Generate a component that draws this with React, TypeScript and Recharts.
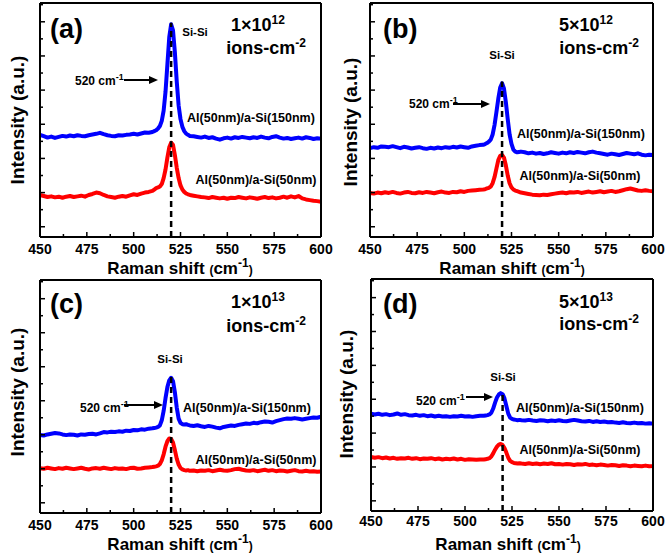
import React from "react";
import { LineChart, Line, XAxis, YAxis, ReferenceLine } from "recharts";

// Raman shift grid (cm-1): coarse on the baseline, fine across the Si-Si peak
const SHIFT = [
  450, 452, 454, 456, 458, 460, 462, 464, 466, 468, 470, 472, 474, 476, 478,
  480, 482, 484, 486, 488, 490, 492, 494, 496, 498, 500, 502, 504, 506, 508,
  510, 511, 512, 513, 514, 515, 516, 517, 518, 519, 520, 521, 522, 523, 524,
  525, 526, 527, 528, 529, 530,
  532, 534, 536, 538, 540, 542, 544, 546, 548, 550, 552, 554, 556, 558, 560,
  562, 564, 566, 568, 570, 572, 574, 576, 578, 580, 582, 584, 586, 588, 590,
  592, 594, 596, 598, 600,
];

// (a) 1x10^12
const A_BLUE = [
  5.38, 5.3, 5.22, 5.28, 5.2, 5.26, 5.32, 5.28, 5.34, 5.3, 5.36, 5.32, 5.3, 5.36, 5.4,
  5.44, 5.5, 5.42, 5.36, 5.32, 5.3, 5.36, 5.34, 5.38, 5.4, 5.44, 5.4, 5.46, 5.52, 5.5,
  5.55, 5.6, 5.65, 5.75, 5.9, 6.2, 6.8, 7.9, 9.5, 11.1, 11.85, 11.5, 10.2, 8.5, 7.1,
  6.3, 5.85, 5.6, 5.45, 5.38, 5.32,
  5.3, 5.26, 5.22, 5.28, 5.2, 5.24, 5.16, 5.1, 5.18, 5.22, 5.16, 5.24, 5.2, 5.26, 5.22,
  5.18, 5.24, 5.2, 5.28, 5.22, 5.18, 5.26, 5.3, 5.22, 5.16, 5.2, 5.14, 5.18, 5.22, 5.16,
  5.24, 5.2, 5.14, 5.18, 5.16,
];
const A_RED = [
  1.86, 1.8, 1.74, 1.78, 1.72, 1.76, 1.7, 1.76, 1.8, 1.74, 1.78, 1.82, 1.76, 1.86, 1.92,
  2.0, 1.96, 1.86, 1.78, 1.74, 1.7, 1.76, 1.8, 1.76, 1.84, 1.9, 1.86, 1.94, 2.0, 2.04,
  2.1, 2.18, 2.26, 2.3, 2.36, 2.5, 2.85, 3.35, 4.05, 4.65, 4.92, 4.8, 4.2, 3.45, 2.85,
  2.42, 2.18, 2.04, 1.95, 1.9, 1.86,
  1.82, 1.78, 1.74, 1.72, 1.68, 1.74, 1.7, 1.66, 1.7, 1.64, 1.7, 1.68, 1.74, 1.7, 1.66,
  1.72, 1.68, 1.64, 1.7, 1.74, 1.68, 1.72, 1.66, 1.7, 1.76, 1.7, 1.78, 1.72, 1.8, 1.66,
  1.6, 1.56, 1.52, 1.5, 1.46,
];

// (b) 5x10^12
const B_BLUE = [
  4.6, 4.66, 4.62, 4.7, 4.68, 4.66, 4.72, 4.66, 4.6, 4.68, 4.64, 4.58, 4.62, 4.66, 4.6,
  4.56, 4.62, 4.58, 4.64, 4.6, 4.66, 4.62, 4.68, 4.64, 4.7, 4.66, 4.62, 4.7, 4.74, 4.78,
  4.8, 4.84, 4.9, 4.98, 5.1, 5.4, 5.95, 6.7, 7.5, 8.15, 8.4, 8.1, 7.3, 6.3, 5.4,
  4.85, 4.52, 4.4, 4.36, 4.38, 4.4,
  4.36, 4.3, 4.34, 4.28, 4.32, 4.26, 4.3, 4.36, 4.32, 4.28, 4.34, 4.3, 4.36, 4.32, 4.38,
  4.34, 4.3, 4.36, 4.4, 4.34, 4.3, 4.26, 4.22, 4.28, 4.24, 4.2, 4.26, 4.32, 4.28, 4.24,
  4.3, 4.22, 4.18, 4.22, 4.2,
];
const B_RED = [
  1.98, 1.94, 2.0, 1.96, 2.02, 1.98, 2.04, 1.98, 1.94, 2.0, 2.04, 1.98, 1.96, 2.02, 1.98,
  2.04, 2.0, 1.96, 2.02, 2.06, 2.0, 1.98, 2.04, 2.02, 2.08, 2.04, 2.1, 2.12, 2.14, 2.16,
  2.18, 2.2, 2.24, 2.28, 2.35, 2.55, 2.9, 3.4, 3.9, 4.15, 4.2, 4.05, 3.6, 3.0, 2.55,
  2.3, 2.18, 2.12, 2.08, 2.04, 2.0,
  1.96, 1.92, 1.88, 1.86, 1.84, 1.88, 1.86, 1.9, 1.94, 1.98, 2.0, 1.96, 2.02, 2.0, 2.04,
  1.98, 2.02, 2.06, 2.0, 2.04, 2.08, 2.02, 2.06, 2.1, 2.04, 2.08, 2.14, 2.2, 2.24, 2.18,
  2.12, 2.1, 2.14, 2.1, 2.08,
];

// (c) 1x10^13
const C_BLUE = [
  3.99, 3.96, 4.02, 4.06, 4.1, 4.08, 4.02, 3.98, 4.02, 4.0, 3.96, 4.02, 4.0, 4.04, 4.06,
  4.02, 4.08, 4.16, 4.14, 4.18, 4.16, 4.2, 4.18, 4.24, 4.22, 4.28, 4.26, 4.32, 4.3, 4.36,
  4.38, 4.4, 4.42, 4.46, 4.55, 4.85, 5.4, 6.15, 6.8, 7.2, 7.35, 7.15, 6.5, 5.6, 4.95,
  4.7, 4.62, 4.6, 4.62, 4.58, 4.55,
  4.52, 4.56, 4.5, 4.46, 4.52, 4.48, 4.42, 4.38, 4.46, 4.5, 4.54, 4.52, 4.58, 4.62, 4.66,
  4.64, 4.7, 4.68, 4.74, 4.78, 4.76, 4.72, 4.8, 4.86, 4.92, 4.96, 4.94, 4.98, 4.94, 4.9,
  4.94, 4.98, 5.02, 5.0, 5.06,
];
const C_RED = [
  2.03, 2.0, 2.06, 2.02, 1.98, 2.04, 2.0, 2.06, 2.02, 1.98, 2.02, 2.06, 2.0, 1.96, 2.02,
  2.04, 2.0, 2.06, 2.02, 1.98, 2.04, 2.0, 2.02, 1.98, 2.04, 2.06, 2.0, 2.02, 2.06, 2.08,
  2.1, 2.12, 2.14, 2.18, 2.28, 2.5, 2.85, 3.3, 3.62, 3.78, 3.75, 3.55, 3.1, 2.6, 2.25,
  2.05, 1.96, 1.92, 1.9, 1.92, 1.88,
  1.9, 1.86, 1.9, 1.88, 1.92, 1.86, 1.9, 1.94, 1.9, 1.88, 1.92, 1.98, 2.0, 1.94, 1.9,
  1.88, 1.92, 1.86, 1.9, 1.94, 1.88, 1.92, 1.86, 1.9, 1.88, 1.84, 1.88, 1.92, 1.86, 1.84,
  1.88, 1.84, 1.86, 1.82, 1.84,
];

// (d) 5x10^13
const D_BLUE = [
  5.15, 5.1, 5.14, 5.08, 5.12, 5.06, 5.1, 5.16, 5.08, 5.12, 5.06, 5.04, 5.08, 5.02, 5.06,
  5.0, 5.04, 4.98, 5.02, 4.98, 5.0, 4.96, 5.0, 4.98, 5.02, 4.98, 5.0, 4.96, 5.0, 5.02,
  5.02, 5.04, 5.06, 5.1, 5.2, 5.45, 5.8, 6.1, 6.28, 6.36, 6.3, 6.05, 5.6, 5.15, 4.92,
  4.84, 4.8, 4.78, 4.76, 4.78, 4.76,
  4.74, 4.78, 4.74, 4.72, 4.76, 4.74, 4.7, 4.74, 4.72, 4.76, 4.72, 4.7, 4.74, 4.78, 4.74,
  4.7, 4.68, 4.72, 4.66, 4.7, 4.66, 4.68, 4.64, 4.66, 4.62, 4.6, 4.64, 4.6, 4.58, 4.62,
  4.58, 4.6, 4.56, 4.58, 4.56,
];
const D_RED = [
  2.59, 2.54, 2.58, 2.52, 2.56, 2.5, 2.54, 2.48, 2.52, 2.5, 2.54, 2.48, 2.52, 2.46, 2.5,
  2.48, 2.52, 2.46, 2.5, 2.44, 2.48, 2.46, 2.5, 2.44, 2.48, 2.42, 2.46, 2.44, 2.42, 2.44,
  2.44, 2.46, 2.48, 2.52, 2.62, 2.8, 3.02, 3.2, 3.32, 3.36, 3.3, 3.12, 2.85, 2.55, 2.36,
  2.28, 2.24, 2.22, 2.2, 2.22, 2.2,
  2.18, 2.22, 2.18, 2.2, 2.16, 2.2, 2.18, 2.22, 2.16, 2.18, 2.14, 2.18, 2.16, 2.12, 2.16,
  2.14, 2.18, 2.12, 2.14, 2.1, 2.14, 2.12, 2.08, 2.12, 2.1, 2.06, 2.1, 2.08, 2.04, 2.08,
  2.06, 2.04, 2.08, 2.04, 2.05,
];

const X_TICKS = [450, 462.5, 475, 487.5, 500, 512.5, 525, 537.5, 550, 562.5, 575, 587.5, 600];
const Y_TICKS = [0, 1, 2, 3, 4, 5, 6, 7, 8, 9, 10, 11, 12, 13];
const PEAK_POS = 520;

const FONT = "'Liberation Sans', Arial, Helvetica, sans-serif";
const BLUE = "#0000ff";
const RED = "#ff0000";

const toRows = (blue: number[], red: number[]) =>
  SHIFT.map((x, i) => ({ x, blue: blue[i], red: red[i] }));

// layout of each panel (pixels inside its 333x278 box); axes take 1px each side
const PANELS = [
  {
    letter: "a", dose: "1", exp: "12", blue: A_BLUE, red: A_RED, peakTop: 11.95,
    pos: [0, 0], margin: { top: 2, right: 11, bottom: 40, left: 39 }, tickDy: 17,
    tag: [50, 38], doseAt: [258, 31], ionsAt: [266, 54], siAt: [195, 36],
    markAt: [75, 85], arrow: [124, 158, 80], l150: [251, 122], l50: [256, 184],
    yTitle: [24, 120], xTitle: [180, 274],
  },
  {
    letter: "b", dose: "5", exp: "12", blue: B_BLUE, red: B_RED, peakTop: 8.5,
    pos: [333, 0], margin: { top: 2, right: 12, bottom: 40, left: 36 }, tickDy: 17,
    tag: [50, 38], doseAt: [253, 31], ionsAt: [266, 54], siAt: [169, 59],
    markAt: [76, 108], arrow: [120, 157, 104], l150: [248, 138], l50: [247, 180],
    yTitle: [24, 122], xTitle: [179, 274],
  },
  {
    letter: "c", dose: "1", exp: "13", blue: C_BLUE, red: C_RED, peakTop: 7.45,
    pos: [0, 277], margin: { top: 2, right: 11, bottom: 41, left: 39 }, tickDy: 17,
    tag: [50, 36], doseAt: [258, 31], ionsAt: [266, 55], siAt: [170, 86],
    markAt: [80, 135], arrow: [124, 163, 128], l150: [247, 135], l50: [256, 187],
    yTitle: [24, 115], xTitle: [180, 273],
  },
  {
    letter: "d", dose: "5", exp: "13", blue: D_BLUE, red: D_RED, peakTop: 6.45,
    pos: [333, 277], margin: { top: 1, right: 12, bottom: 43, left: 37 }, tickDy: 15,
    tag: [50, 36], doseAt: [253, 31], ionsAt: [266, 53], siAt: [170, 104],
    markAt: [83, 128], arrow: [133, 160, 120], l150: [247, 135], l50: [247, 177],
    yTitle: [20, 117], xTitle: [175, 273],
  },
];

const XTick = (props: any) => {
  const { x, y, payload, dy } = props;
  const major = payload.value % 25 === 0;
  return (
    <g>
      <line x1={x} x2={x} y1={y} y2={y - (major ? 5 : 3)} stroke="#000" strokeWidth={1.5} />
      {major && (
        <text x={x} y={y + dy} textAnchor="middle" fontSize={14} fontWeight="bold" fontFamily={FONT} fill="#000">
          {payload.value}
        </text>
      )}
    </g>
  );
};

const YTick = (props: any) => {
  const { x, y, index } = props;
  const len = index % 2 === 0 ? 5 : 3;
  return <line x1={x} x2={x + len} y1={y} y2={y} stroke="#000" strokeWidth={1.5} />;
};

const Overlay = ({ p }: { p: any }) => (
  <svg
    width={333}
    height={278}
    style={{ position: "absolute", left: 0, top: 0, pointerEvents: "none" }}
    fontFamily={FONT}
    fontWeight="bold"
    fill="#000"
  >
    <text x={p.tag[0]} y={p.tag[1]} fontSize={27}>({p.letter})</text>
    <text x={p.doseAt[0]} y={p.doseAt[1]} fontSize={18} textAnchor="middle">
      {p.dose}×10<tspan dy={-7} fontSize={12}>{p.exp}</tspan>
    </text>
    <text x={p.ionsAt[0]} y={p.ionsAt[1]} fontSize={18} textAnchor="middle">
      ions-cm<tspan dy={-7} fontSize={12}>-2</tspan>
    </text>
    <text x={p.siAt[0]} y={p.siAt[1]} fontSize={11.5} textAnchor="middle">Si-Si</text>
    <text x={p.markAt[0]} y={p.markAt[1]} fontSize={12}>
      520 cm<tspan dy={-5} fontSize={9}>-1</tspan>
    </text>
    <line x1={p.arrow[0]} x2={p.arrow[1] - 7} y1={p.arrow[2]} y2={p.arrow[2]} stroke="#000" strokeWidth={2} />
    <polygon
      points={`${p.arrow[1]},${p.arrow[2]} ${p.arrow[1] - 9},${p.arrow[2] - 4} ${p.arrow[1] - 9},${p.arrow[2] + 4}`}
      fill="#000"
    />
    <text x={p.l150[0]} y={p.l150[1]} fontSize={12.5} textAnchor="middle">Al(50nm)/a-Si(150nm)</text>
    <text x={p.l50[0]} y={p.l50[1]} fontSize={12.5} textAnchor="middle">Al(50nm)/a-Si(50nm)</text>
    <text transform={`translate(${p.yTitle[0]},${p.yTitle[1]}) rotate(-90)`} fontSize={19} textAnchor="middle">
      Intensity (a.u.)
    </text>
    <text x={p.xTitle[0]} y={p.xTitle[1]} fontSize={17} textAnchor="middle">
      Raman shift <tspan fontSize={12}>(</tspan>cm<tspan dy={-7} fontSize={12}>-1</tspan>
      <tspan dy={7} fontSize={12}>)</tspan>
    </text>
  </svg>
);

const Panel = ({ p }: { p: any }) => {
  const rows = toRows(p.blue, p.red);
  const frame = { stroke: "#000", strokeWidth: 2 };
  return (
    <div style={{ position: "absolute", left: p.pos[0], top: p.pos[1], width: 333, height: 278 }}>
      <LineChart width={333} height={278} data={rows} margin={p.margin}>
        <XAxis
          dataKey="x"
          type="number"
          domain={[450, 600]}
          ticks={X_TICKS}
          interval={0}
          tickSize={0}
          tickMargin={0}
          tickLine={false}
          height={1}
          axisLine={frame}
          tick={(t: any) => <XTick {...t} dy={p.tickDy} />}
        />
        <XAxis
          xAxisId="top"
          orientation="top"
          dataKey="x"
          type="number"
          domain={[450, 600]}
          height={1}
          tick={false}
          tickLine={false}
          axisLine={frame}
        />
        <YAxis
          type="number"
          domain={[-0.6, 13.1]}
          ticks={Y_TICKS}
          interval={0}
          tickSize={0}
          tickMargin={0}
          tickLine={false}
          width={1}
          axisLine={frame}
          tick={(t: any) => <YTick {...t} />}
        />
        <YAxis
          yAxisId="right"
          orientation="right"
          type="number"
          domain={[-0.6, 13.1]}
          width={1}
          tick={false}
          tickLine={false}
          axisLine={frame}
        />
        <Line dataKey="blue" stroke={BLUE} strokeWidth={4} dot={false} isAnimationActive={false} strokeLinejoin="round" />
        <Line dataKey="red" stroke={RED} strokeWidth={4} dot={false} isAnimationActive={false} strokeLinejoin="round" />
        <ReferenceLine
          segment={[{ x: PEAK_POS, y: -0.6 }, { x: PEAK_POS, y: p.peakTop }]}
          stroke="#000"
          strokeWidth={2.5}
          strokeDasharray="6 4"
          ifOverflow="visible"
        />
      </LineChart>
      <Overlay p={p} />
    </div>
  );
};

export default function App() {
  return (
    <div style={{ position: "absolute", left: 0, top: 0, width: 666, height: 555, background: "#fff" }}>
      {PANELS.map((p) => (
        <Panel key={p.letter} p={p} />
      ))}
    </div>
  );
}
